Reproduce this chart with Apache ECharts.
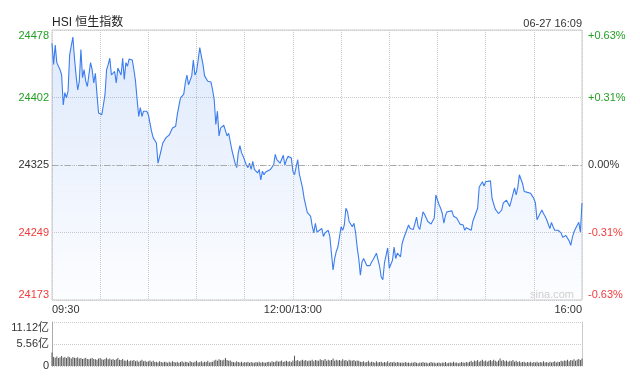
<!DOCTYPE html>
<html>
<head>
<meta charset="utf-8">
<script src="https://cdn.jsdelivr.net/npm/echarts@6/dist/echarts.min.js"></script>
<style>
  html, body { margin: 0; padding: 0; background: #fff; }
  #chart { width: 640px; height: 376px; }
</style>
</head>
<body>
<div id="chart"></div>
<script>
// minute index from 09:30 (12:00 = 150, 13:00 joins at 150, 16:00 = 330)
const minutes = [
  0, 1, 2, 3, 5, 6, 7, 8, 9, 10,
  11, 13, 14, 15, 16, 17, 18, 19, 20, 21,
  22, 24, 25, 26, 27, 28, 29, 31, 32, 33,
  34, 35, 36, 37, 38, 39, 40, 41, 42, 43,
  44, 45, 46, 47, 48, 50, 51, 52, 53, 54,
  55, 56, 57, 58, 59, 60, 61, 62, 63, 65,
  66, 68, 69, 70, 71, 73, 74, 75, 77, 78,
  80, 81, 82, 83, 84, 85, 87, 88, 89, 90,
  91, 92, 93, 94, 95, 97, 98, 99, 100, 101,
  102, 103, 104, 105, 107, 108, 109, 110, 111, 112,
  114, 115, 116, 117, 118, 119, 120, 121, 122, 123,
  124, 125, 126, 127, 128, 129, 130, 131, 132, 133,
  134, 136, 137, 138, 139, 140, 141, 142, 144, 145,
  146, 147, 149, 150, 151, 152, 153, 154, 156, 157,
  158, 159, 161, 162, 163, 164, 165, 166, 168, 169,
  170, 171, 172, 173, 174, 175, 176, 177, 178, 179,
  180, 181, 182, 183, 184, 185, 187, 188, 189, 190,
  191, 192, 193, 194, 195, 196, 198, 199, 200, 202,
  203, 204, 205, 206, 207, 208, 209, 210, 212, 213,
  214, 215, 217, 218, 219, 220, 222, 223, 224, 225,
  227, 228, 229, 231, 232, 234, 235, 236, 237, 238,
  239, 241, 242, 243, 244, 245, 246, 247, 249, 250,
  251, 252, 254, 255, 256, 257, 258, 259, 261, 262,
  263, 264, 265, 266, 268, 269, 270, 271, 273, 274,
  275, 276, 278, 279, 280, 281, 283, 284, 285, 286,
  288, 289, 290, 291, 293, 294, 295, 296, 298, 299,
  300, 301, 302, 303, 305, 306, 307, 308, 310, 311,
  312, 313, 315, 316, 317, 318, 320, 321, 322, 323,
  324, 325, 326, 327, 328, 329, 330
]
const prices = [
  24463, 24439, 24461, 24441, 24433, 24427, 24393, 24407, 24401, 24409,
  24450, 24470, 24446, 24426, 24410, 24420, 24456, 24424, 24433, 24420,
  24414, 24441, 24433, 24418, 24429, 24405, 24384, 24382, 24393, 24405,
  24433, 24439, 24446, 24427, 24427, 24431, 24418, 24435, 24433, 24427,
  24446, 24422, 24441, 24437, 24445, 24444, 24433, 24420, 24399, 24380,
  24390, 24380, 24386, 24384, 24386, 24382, 24380, 24363, 24356, 24350,
  24327, 24342, 24350, 24348, 24356, 24359, 24360, 24367, 24369, 24382,
  24401, 24403, 24405, 24418, 24427, 24416, 24426, 24444, 24427, 24431,
  24444, 24458, 24460, 24439, 24426, 24420, 24421, 24419, 24410, 24399,
  24371, 24386, 24358, 24367, 24370, 24368, 24358, 24361, 24360, 24342,
  24327, 24322, 24339, 24347, 24339, 24335, 24337, 24325, 24322, 24327,
  24320, 24329, 24320, 24322, 24316, 24320, 24308, 24318, 24314, 24317,
  24316, 24320, 24322, 24325, 24337, 24331, 24329, 24327, 24336, 24325,
  24331, 24335, 24333, 24318, 24314, 24314, 24331, 24315, 24299, 24287,
  24287, 24271, 24267, 24256, 24248, 24259, 24249, 24251, 24253, 24244,
  24248, 24248, 24251, 24244, 24225, 24206, 24219, 24227, 24232, 24233,
  24255, 24251, 24257, 24276, 24272, 24261, 24255, 24259, 24249, 24232,
  24219, 24200, 24215, 24219, 24217, 24211, 24211, 24215, 24218, 24225,
  24223, 24210, 24198, 24195, 24214, 24213, 24231, 24208, 24217, 24232,
  24219, 24225, 24221, 24236, 24242, 24241, 24257, 24253, 24254, 24252,
  24266, 24255, 24252, 24272, 24269, 24261, 24263, 24258, 24258, 24265,
  24291, 24280, 24276, 24270, 24259, 24268, 24272, 24270, 24273, 24267,
  24265, 24265, 24258, 24256, 24257, 24251, 24254, 24252, 24251, 24261,
  24266, 24265, 24276, 24300, 24306, 24301, 24306, 24308, 24307, 24287,
  24287, 24275, 24270, 24269, 24274, 24282, 24285, 24286, 24278, 24285,
  24299, 24291, 24299, 24314, 24304, 24295, 24293, 24294, 24293, 24290,
  24287, 24282, 24263, 24263, 24274, 24270, 24267, 24263, 24253, 24260,
  24255, 24251, 24251, 24249, 24248, 24243, 24245, 24243, 24239, 24234,
  24243, 24249, 24253, 24252, 24260, 24249, 24282
]
// per-minute volume, 亿
const volumes = [
  3.4, 2.3, 2.1, 2.4, 2.0, 2.2, 2.5, 2.1, 2.3, 2.0, 2.4, 2.2, 1.9, 2.3, 2.1, 2.0, 2.2, 1.9, 2.0, 1.8,
  1.9, 2.1, 1.8, 1.7, 1.9, 2.0, 1.8, 1.7, 1.6, 1.9, 2.0, 1.7, 1.6, 1.8, 2.1, 1.7, 1.9, 1.6, 1.8, 1.5,
  1.7, 2.0, 1.6, 1.5, 1.8, 1.4, 1.3, 1.6, 1.2, 1.4, 1.3, 1.5, 1.2, 1.4, 1.1, 1.3, 1.6, 1.2, 1.3, 1.1,
  1.2, 1.4, 1.1, 1.3, 1.0, 1.1, 0.9, 1.2, 1.0, 0.9, 1.1, 1.0, 0.8, 1.1, 0.9, 1.2, 1.0, 0.9, 1.1, 0.8,
  1.0, 1.2, 0.9, 1.1, 1.0, 0.8, 1.2, 1.0, 0.9, 1.1, 1.3, 0.9, 1.0, 1.2, 0.9, 1.1, 1.0, 1.3, 0.9, 1.0,
  1.1, 1.4, 1.6, 1.3, 1.7, 1.5, 1.4, 1.6, 2.0, 1.5, 1.3, 1.4, 1.1, 1.0, 0.9, 1.2, 1.0, 0.9, 1.1, 0.8,
  1.0, 0.9, 1.1, 0.8, 1.0, 0.9, 0.8, 1.0, 0.9, 1.1, 0.8, 1.0, 0.9, 0.8, 1.0, 1.1, 0.9, 1.2, 1.0, 1.1,
  1.3, 1.1, 1.2, 1.4, 1.0, 1.2, 1.3, 1.1, 1.2, 1.0, 1.4, 2.6, 1.3, 1.5, 1.2, 1.4, 1.6, 1.3, 1.5, 1.2,
  1.4, 1.3, 1.6, 1.2, 1.5, 1.4, 1.3, 1.7, 1.5, 1.4, 1.8, 1.3, 1.6, 1.4, 1.5, 1.9, 1.3, 1.6, 1.4, 1.5,
  1.3, 1.7, 1.4, 1.5, 1.2, 1.6, 1.4, 1.3, 1.5, 1.2, 1.4, 1.3, 1.1, 1.0, 1.2, 0.9, 1.0, 1.3, 0.9, 1.1,
  1.0, 0.8, 1.2, 0.9, 1.0, 1.1, 0.8, 1.0, 0.9, 1.2, 0.8, 1.0, 0.9, 1.1, 0.8, 1.0, 0.9, 0.8, 0.9, 0.8,
  1.0, 0.8, 0.9, 0.7, 0.9, 0.8, 1.0, 0.8, 0.7, 0.9, 0.8, 1.0, 0.8, 0.9, 0.7, 0.8, 1.0, 0.8, 0.9, 0.7,
  0.8, 0.9, 0.7, 0.9, 0.8, 1.0, 0.7, 0.8, 0.9, 0.8, 1.1, 0.8, 0.9, 0.7, 0.8, 1.0, 0.9, 0.8, 1.0, 0.9,
  1.1, 1.3, 1.0, 1.4, 1.2, 1.5, 1.1, 1.3, 1.6, 1.2, 1.4, 1.1, 1.3, 1.5, 1.2, 1.6, 1.3, 1.1, 1.4, 1.9,
  1.3, 1.5, 1.2, 1.4, 1.1, 1.3, 1.2, 1.5, 1.1, 1.3, 1.0, 1.2, 0.9, 1.0, 1.1, 0.8, 1.0, 0.9, 1.1, 0.8,
  1.0, 0.9, 1.1, 0.8, 1.0, 0.9, 1.2, 0.9, 1.0, 0.8, 1.1, 0.9, 1.0, 1.2, 0.9, 1.1, 1.0, 1.3, 1.2, 1.4,
  1.3, 1.6, 1.2, 1.5, 1.4, 1.7, 1.3, 1.6, 1.8, 1.5, 1.9
]

const prevClose = 24325
const priceMin = 24172
const priceMax = 24478
const priceStep = 76.5
const priceLabels = ["24173", "24249", "24325", "24402", "24478"]
const pctLabels = ["-0.63%", "-0.31%", "0.00%", "+0.31%", "+0.63%"]
const labelColors = ["#f23b3b", "#f23b3b", "#333333", "#23a023", "#23a023"]
const timeLabels = ["09:30", "", "", "", "", "12:00/13:00", "", "", "", "", "", "16:00"]
const volLabels = ["0", "5.56亿", "11.12亿"]

const fontFamily = 'Arial, "Liberation Sans", "Noto Sans CJK SC", sans-serif'
const chart = echarts.init(document.getElementById("chart"))

function priceIdx(v) {
  return Math.round((Number(v) - priceMin) / priceStep)
}
function pctIdx(v) {
  return Math.round((Number(v) + 0.63) / 0.315)
}

const option = {
  animation: false,
  textStyle: { fontFamily: fontFamily },
  title: {
    text: "HSI 恒生指数",
    left: 52,
    top: 17,
    padding: 0,
    textStyle: { fontSize: 12, fontWeight: "normal", color: "#222", fontFamily: fontFamily },
  },
  graphic: [
    {
      type: "text",
      right: 58,
      top: 18,
      style: { text: "06-27 16:09", fontSize: 11, fill: "#333", fontFamily: fontFamily },
    },
    {
      type: "text",
      left: 530,
      top: 289,
      z: 10,
      style: { text: "sina.com", fontSize: 11, fill: "#cfcfcf", fontFamily: fontFamily },
    },
  ],
  grid: [
    { left: 52, right: 58, top: 30, height: 270, show: true, borderColor: "#cccccc", borderWidth: 1 },
    { left: 52, right: 58, top: 322, height: 44 },
  ],
  xAxis: [
    {
      type: "value",
      gridIndex: 0,
      min: 0,
      max: 330,
      interval: 30,
      axisLine: { show: false },
      axisTick: { show: false },
      splitLine: { show: true, lineStyle: { color: "#cccccc", type: "dotted" } },
      axisLabel: {
        margin: 4,
        fontSize: 11,
        color: "#333",
        alignMinLabel: "left",
        alignMaxLabel: "right",
        formatter: (v) => timeLabels[Math.round(v / 30)],
      },
    },
    {
      type: "value",
      gridIndex: 1,
      min: 0,
      max: 330,
      interval: 30,
      axisLine: { show: false },
      axisTick: { show: false },
      splitLine: { show: false },
      axisLabel: { show: false },
    },
  ],
  yAxis: [
    {
      type: "value",
      gridIndex: 0,
      position: "left",
      min: priceMin,
      max: priceMax,
      interval: priceStep,
      axisLine: { show: false },
      axisTick: { show: false },
      splitLine: { show: true, lineStyle: { color: "#cccccc", type: "dotted" } },
      axisLabel: {
        margin: 3,
        fontSize: 11,
        verticalAlignMinLabel: "bottom",
        verticalAlignMaxLabel: "top",
        formatter: (v) => priceLabels[priceIdx(v)],
        color: (v) => labelColors[priceIdx(v)],
      },
    },
    {
      type: "value",
      gridIndex: 0,
      position: "right",
      min: -0.63,
      max: 0.63,
      interval: 0.315,
      axisLine: { show: false },
      axisTick: { show: false },
      splitLine: { show: false },
      axisLabel: {
        margin: 6,
        fontSize: 11,
        verticalAlignMinLabel: "bottom",
        verticalAlignMaxLabel: "top",
        formatter: (v) => pctLabels[pctIdx(v)],
        color: (v) => labelColors[pctIdx(v)],
      },
    },
    {
      type: "value",
      gridIndex: 1,
      position: "left",
      min: 0,
      max: 11.12,
      interval: 5.56,
      axisLine: { show: true, lineStyle: { color: "#aaaaaa" } },
      axisTick: { show: false },
      splitLine: { show: true, lineStyle: { color: "#cccccc", type: "dotted" } },
      axisLabel: {
        margin: 3,
        fontSize: 11,
        color: "#333",
        verticalAlignMaxLabel: "top",
        formatter: (v) => volLabels[Math.round(v / 5.56)],
      },
    },
    {
      type: "value",
      gridIndex: 1,
      position: "right",
      min: 0,
      max: 11.12,
      interval: 5.56,
      axisLine: { show: true, lineStyle: { color: "#cccccc" } },
      axisTick: { show: false },
      splitLine: { show: false },
      axisLabel: { show: false },
    },
  ],
  series: [
    {
      name: "HSI",
      type: "line",
      xAxisIndex: 0,
      yAxisIndex: 0,
      showSymbol: false,
      data: minutes.map((m, i) => [m, prices[i]]),
      lineStyle: { color: "#3b7ded", width: 1.1 },
      itemStyle: { color: "#3b7ded" },
      areaStyle: {
        origin: "start",
        color: new echarts.graphic.LinearGradient(0, 0, 0, 1, [
          { offset: 0, color: "rgba(59,125,237,0.24)" },
          { offset: 1, color: "rgba(59,125,237,0.02)" },
        ]),
      },
      markLine: {
        silent: true,
        symbol: "none",
        label: { show: false },
        lineStyle: { color: "#aaaaaa", type: [6, 3, 1, 3], width: 1 },
        data: [{ yAxis: prevClose }],
      },
    },
    {
      name: "成交量",
      type: "bar",
      xAxisIndex: 1,
      yAxisIndex: 2,
      barWidth: 1,
      data: volumes.map((v, i) => [i, v]),
      itemStyle: { color: "#555555" },
    },
  ],
}

chart.setOption(option)
</script>
</body>
</html>
